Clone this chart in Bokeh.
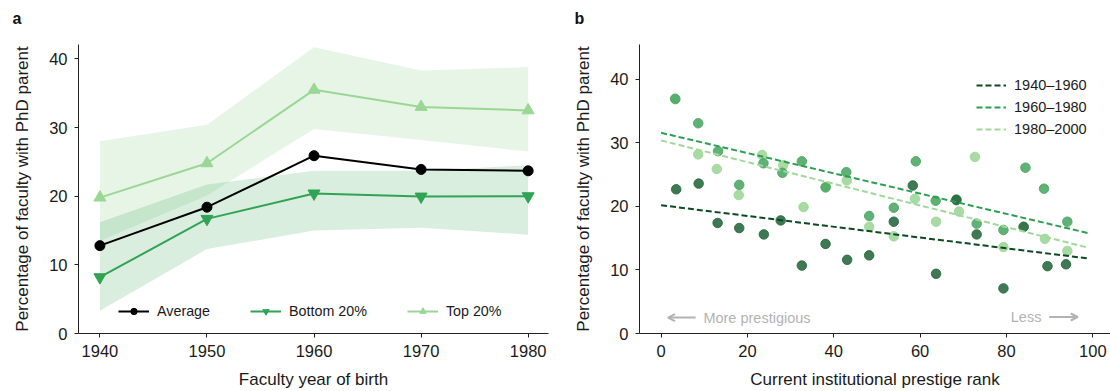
from bokeh.plotting import figure
from bokeh.layouts import row
from bokeh.models import Legend, LegendItem, Arrow, OpenHead, Label, Range1d, FixedTicker, Title
from bokeh.embed import file_html
from bokeh.resources import INLINE

FONT = "Liberation Sans"

# ---------------- Panel a data ----------------
years = [1940, 1950, 1960, 1970, 1980]
avg_pct = [12.8, 18.4, 25.9, 23.9, 23.7]
bottom_pct = [8.2, 16.7, 20.4, 19.95, 20.0]
top_pct = [19.8, 24.8, 35.5, 33.0, 32.5]
top_hi = [28.0, 30.4, 41.7, 38.3, 38.8]
top_lo = [13.5, 20.1, 29.8, 28.2, 26.5]
bottom_hi = [16.2, 21.7, 23.7, 23.7, 24.5]
bottom_lo = [3.3, 12.3, 15.0, 15.4, 14.4]
a_xticks = [1940, 1950, 1960, 1970, 1980]
a_yticks = [0, 10, 20, 30, 40]

# ---------------- Panel b data ----------------
rank_1940 = [3.5, 8.7, 13.1, 18.1, 23.8, 27.7, 32.6, 38.1, 43.1, 48.2, 53.9, 58.3, 63.7, 68.4, 73.1, 79.3, 84.0, 89.5, 93.8]
pct_1940 = [22.7, 23.6, 17.4, 16.6, 15.6, 17.8, 10.7, 14.1, 11.6, 12.3, 17.6, 23.3, 9.4, 21.0, 15.6, 7.1, 16.8, 10.6, 10.9]
rank_1960 = [3.3, 8.6, 13.2, 18.1, 23.7, 28.1, 32.6, 38.1, 42.9, 48.2, 53.9, 59.0, 63.6, 68.4, 73.1, 79.3, 84.4, 88.7, 94.1]
pct_1960 = [36.9, 33.1, 28.7, 23.4, 26.8, 25.3, 27.1, 23.0, 25.4, 18.5, 19.8, 27.1, 20.9, 21.1, 17.3, 16.3, 26.1, 22.8, 17.6]
rank_1980 = [3.2, 8.6, 12.9, 18.0, 23.4, 28.3, 33.0, 38.2, 43.0, 48.2, 53.9, 58.8, 63.7, 69.0, 72.7, 79.3, 83.9, 88.9, 94.1]
pct_1980 = [37.0, 28.2, 25.9, 21.8, 28.1, 26.5, 19.9, 23.1, 24.1, 16.8, 15.3, 21.2, 17.6, 19.2, 27.8, 13.6, 16.8, 14.9, 13.0]
trend_x = [0, 99]
trend_1940 = [20.2, 11.8]
trend_1960 = [31.6, 15.8]
trend_1980 = [30.4, 13.5]
b_xticks = [0, 20, 40, 60, 80, 100]
b_yticks = [0, 10, 20, 30, 40]

DARK_PT, MID_PT, LIGHT_PT = "#2a6a40", "#4ea866", "#9fd79a"
DARK_LN, MID_LN, LIGHT_LN = "#0b4a22", "#2e9e52", "#a1d99b"


def style(p):
    p.outline_line_color = None
    p.grid.visible = False
    p.background_fill_color = "white"
    p.border_fill_color = "white"
    for ax in (p.xaxis[0], p.yaxis[0]):
        ax.axis_line_color = "#222222"
        ax.axis_line_width = 1
        ax.major_tick_line_color = "#222222"
        ax.major_tick_out = 4
        ax.major_tick_in = 0
        ax.minor_tick_line_color = None
        ax.major_label_text_font = FONT
        ax.major_label_text_font_size = "16.5px"
        ax.major_label_text_color = "#1a1a1a"
        ax.major_label_standoff = 7
        ax.axis_label_text_font = FONT
        ax.axis_label_text_font_size = "17px"
        ax.axis_label_text_font_style = "normal"
        ax.axis_label_text_color = "#1a1a1a"
    p.yaxis[0].axis_label_standoff = 14
    p.xaxis[0].axis_label_standoff = 10


def panel_letter(p, letter, offset):
    # spacer panel (closest to the frame) pushes the panel letter upwards
    p.add_layout(Title(text=" ", text_font=FONT, text_font_size="14px", standoff=0), "above")
    p.add_layout(Title(text=letter, text_font=FONT, text_font_size="16px", text_font_style="bold",
                       text_color="#111111", align="left", vertical_align="bottom",
                       standoff=0, offset=offset), "above")


# ---------------- Panel a ----------------
pa = figure(width=560, height=391, output_backend="svg", toolbar_location=None,
            x_range=Range1d(1938, 1981.9), y_range=Range1d(0, 42.1),
            min_border_left=78, min_border_right=12, min_border_top=43, min_border_bottom=58)
style(pa)
panel_letter(pa, "a", -66)
pa.xaxis.axis_label = "Faculty year of birth"
pa.yaxis.axis_label = "Percentage of faculty with PhD parent"
pa.xaxis.ticker = FixedTicker(ticks=a_xticks)
pa.yaxis.ticker = FixedTicker(ticks=a_yticks)

pa.varea(x=years, y1=top_lo, y2=top_hi, fill_color="#a1d99b", fill_alpha=0.25)
pa.varea(x=years, y1=bottom_lo, y2=bottom_hi, fill_color="#41ab5d", fill_alpha=0.2)

l_avg = pa.line(years, avg_pct, line_color="black", line_width=2)
m_avg = pa.scatter(years, avg_pct, marker="circle", size=10, fill_color="black", line_color="black")
l_bot = pa.line(years, bottom_pct, line_color="#31a354", line_width=2)
m_bot = pa.scatter(years, bottom_pct, marker="inverted_triangle", size=12, fill_color="#31a354", line_color="#31a354")
l_top = pa.line(years, top_pct, line_color="#9ad795", line_width=2)
m_top = pa.scatter(years, top_pct, marker="triangle", size=12, fill_color="#9ad795", line_color="#9ad795")

leg_a = Legend(items=[LegendItem(label="Average", renderers=[l_avg, m_avg]),
                      LegendItem(label="Bottom 20%", renderers=[l_bot, m_bot]),
                      LegendItem(label="Top 20%", renderers=[l_top, m_top])],
               orientation="horizontal", location=(40, 14),
               glyph_width=31, glyph_height=16, label_height=16, label_standoff=8,
               spacing=40, padding=0, margin=0,
               border_line_color=None, background_fill_alpha=0,
               label_text_font=FONT, label_text_font_size="14.3px", label_text_color="#1a1a1a")
pa.add_layout(leg_a, "center")

# ---------------- Panel b ----------------
pb = figure(width=550, height=391, output_backend="svg", toolbar_location=None,
            x_range=Range1d(-5, 104.1), y_range=Range1d(0, 45.5),
            min_border_left=79, min_border_right=0, min_border_top=44, min_border_bottom=58)
style(pb)
panel_letter(pb, "b", -65)
pb.xaxis.axis_label = "Current institutional prestige rank"
pb.yaxis.axis_label = "Percentage of faculty with PhD parent"
pb.xaxis.ticker = FixedTicker(ticks=b_xticks)
pb.yaxis.ticker = FixedTicker(ticks=b_yticks)

pb.scatter(rank_1980, pct_1980, size=9.5, fill_color=LIGHT_PT, line_color=LIGHT_PT, fill_alpha=0.9, line_alpha=0.9)
pb.scatter(rank_1960, pct_1960, size=9.5, fill_color=MID_PT, line_color=MID_PT, fill_alpha=0.9, line_alpha=0.9)
pb.scatter(rank_1940, pct_1940, size=9.5, fill_color=DARK_PT, line_color=DARK_PT, fill_alpha=0.9, line_alpha=0.9)

t1 = pb.line(trend_x, trend_1940, line_color=DARK_LN, line_width=2, line_dash="6 3")
t2 = pb.line(trend_x, trend_1960, line_color=MID_LN, line_width=2, line_dash="6 3")
t3 = pb.line(trend_x, trend_1980, line_color=LIGHT_LN, line_width=2, line_dash="6 3")

leg_b = Legend(items=[LegendItem(label="1940–1960", renderers=[t1]),
                      LegendItem(label="1960–1980", renderers=[t2]),
                      LegendItem(label="1980–2000", renderers=[t3])],
               orientation="vertical", location=(337, 193),
               glyph_width=30, glyph_height=22, label_height=22, label_standoff=8,
               spacing=0, padding=0, margin=0,
               border_line_color=None, background_fill_alpha=0,
               label_text_font=FONT, label_text_font_size="14.5px", label_text_color="#1a1a1a")
pb.add_layout(leg_b, "center")

GRAY = "#b3b3b3"
pb.add_layout(Arrow(end=OpenHead(size=7, line_color=GRAY, line_width=2), x_start=8.0, y_start=2.5,
                    x_end=1.6, y_end=2.5, line_color=GRAY, line_width=2))
pb.add_layout(Label(x=9.8, y=2.5, text="More prestigious", text_font=FONT, text_font_size="14.5px",
                    text_color=GRAY, text_baseline="middle", text_align="left"))
pb.add_layout(Label(x=88.1, y=2.6, text="Less", text_font=FONT, text_font_size="14.5px",
                    text_color=GRAY, text_baseline="middle", text_align="right"))
pb.add_layout(Arrow(end=OpenHead(size=7, line_color=GRAY, line_width=2), x_start=89.9, y_start=2.6,
                    x_end=96.5, y_end=2.6, line_color=GRAY, line_width=2))

layout = row(pa, pb)
open("out.html", "w").write(file_html(layout, INLINE))
